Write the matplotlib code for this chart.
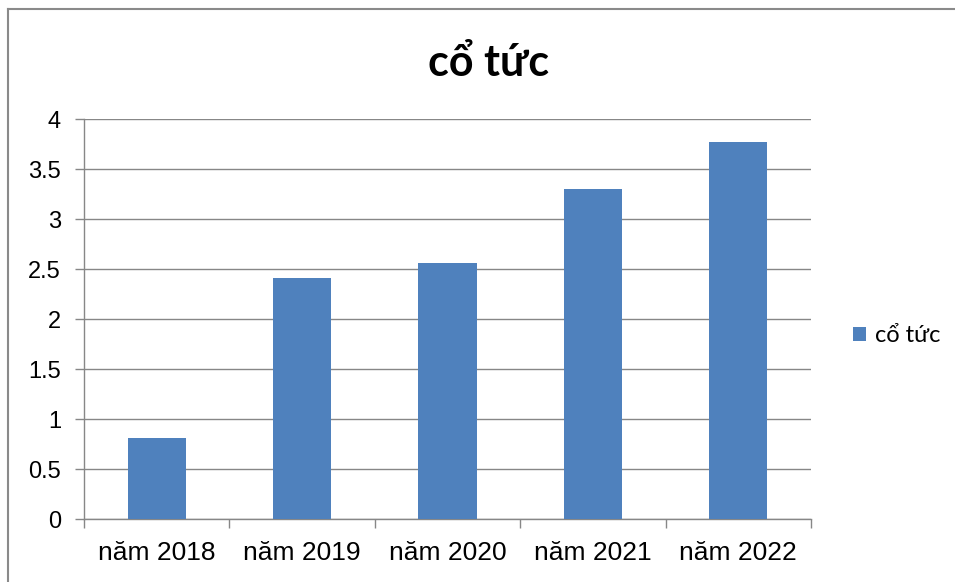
import matplotlib.pyplot as plt
from matplotlib.lines import Line2D

years = ['năm 2018', 'năm 2019', 'năm 2020', 'năm 2021', 'năm 2022']
co_tuc = [0.81, 2.41, 2.56, 3.30, 3.77]
yticks = [0, 0.5, 1, 1.5, 2, 2.5, 3, 3.5, 4]
ytick_labels = ['0', '0.5', '1', '1.5', '2', '2.5', '3', '3.5', '4']

W, H = 955, 582
fig = plt.figure(figsize=(W / 100, H / 100), dpi=100)
ax = fig.add_axes([84 / W, 1 - 519 / H, (811 - 84) / W, (519 - 119) / H])

cal = ['Lato', 'Noto Sans', 'DejaVu Sans']
ari = ['Liberation Sans', 'DejaVu Sans']

x = list(range(len(years)))
ax.bar(x, co_tuc, width=0.4, color='#4F81BD', zorder=3, label='cổ tức')

ax.set_xlim(-0.5, len(years) - 0.5)
ax.set_ylim(0, 4)
ax.set_yticks(yticks)
ax.set_yticklabels(ytick_labels, family=ari, fontsize=17)
ax.yaxis.grid(True, color='#878787', linewidth=1, zorder=0)

# category ticks sit between the bars
ax.set_xticks([i - 0.5 for i in range(len(years) + 1)])
ax.set_xticklabels([])
ax.set_xticks(x, minor=True)
ax.set_xticklabels(years, minor=True, family=ari, fontsize=19)
ax.tick_params(axis='x', which='major', length=6.5, color='#878787', width=1)
ax.tick_params(axis='x', which='minor', length=0, pad=16)
ax.tick_params(axis='y', length=6.5, color='#878787', width=1, pad=10)

for s in ['top', 'right']:
    ax.spines[s].set_visible(False)
for s in ['left', 'bottom']:
    ax.spines[s].set_color('#878787')
    ax.spines[s].set_linewidth(1)

fig.text(488 / W, 1 - 76 / H, 'cổ tức', ha='center', va='baseline',
         family=cal, fontsize=31, fontweight='bold')

leg = ax.legend(loc='center left', bbox_to_anchor=(853 / W, 1 - 336 / H),
                bbox_transform=fig.transFigure, frameon=False, borderpad=0,
                borderaxespad=0, prop={'family': cal, 'size': 17},
                handlelength=0.55, handleheight=0.55, handletextpad=0.4)

# outer chart frame (left and top edges visible)
fig.add_artist(Line2D([8 / W, 8 / W], [0, 1 - 9 / H], color='#8a8a8a', linewidth=1.5))
fig.add_artist(Line2D([8 / W, 1], [1 - 9 / H, 1 - 9 / H], color='#8a8a8a', linewidth=1.5))

fig.savefig('out.png', dpi=100)
